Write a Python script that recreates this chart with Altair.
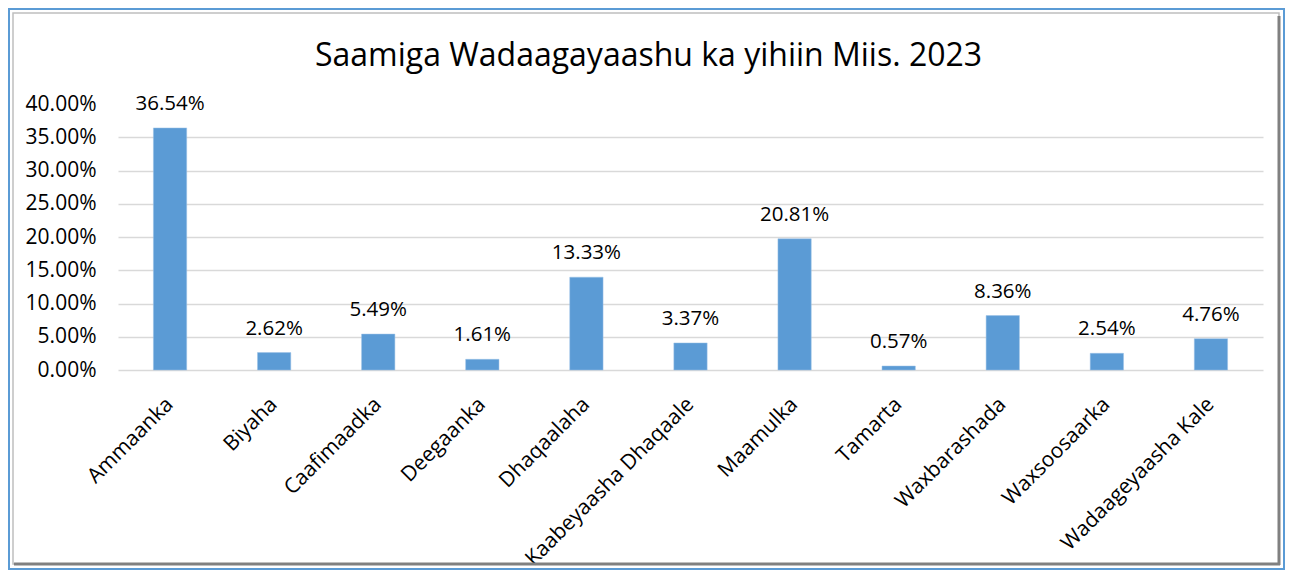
import altair as alt
import pandas as pd

categories = ["Ammaanka", "Biyaha", "Caafimaadka", "Deegaanka", "Dhaqaalaha",
              "Kaabeyaasha Dhaqaale", "Maamulka", "Tamarta", "Waxbarashada",
              "Waxsoosaarka", "Wadaageyaasha Kale"]
bar_values = [36.4, 2.62, 5.4, 1.61, 13.96, 4.07, 19.73, 0.6, 8.18, 2.51, 4.71]
label_texts = ["36.54%", "2.62%", "5.49%", "1.61%", "13.33%", "3.37%",
               "20.81%", "0.57%", "8.36%", "2.54%", "4.76%"]
y_ticks = [0, 0.05, 0.10, 0.15, 0.20, 0.25, 0.30, 0.35, 0.40]

df = pd.DataFrame({
    "cat": categories,
    "val": [v / 100 for v in bar_values],
    "lab": label_texts,
})

FONT = "Open Sans"
W, H = 1145, 266

x_enc = alt.X("cat:N", sort=categories, title=None,
              scale=alt.Scale(paddingInner=0.68, paddingOuter=0.34),
              axis=alt.Axis(labelAngle=-45, labelAlign="right", labelBaseline="middle",
                            labelPadding=31, ticks=False, domain=False, labelLimit=0,
                            labelOverlap=False, grid=False,
                            labelFont=FONT, labelFontSize=21, labelColor="#000000"))
y_enc = alt.Y("val:Q", title=None,
              scale=alt.Scale(domain=[0, 0.4], nice=False),
              axis=alt.Axis(values=y_ticks, format=".2%", ticks=False, domain=False,
                            labelOverlap=False,
                            labelPadding=22, labelFont=FONT, labelFontSize=21,
                            labelColor="#000000", gridColor="#D9D9D9", gridWidth=1.5,
                            gridOpacity={"condition": {"test": "datum.value > 0.375", "value": 0},
                                         "value": 1}))

bars = alt.Chart(df).mark_bar(color="#5B9BD5", stroke="#9DC3E6", strokeWidth=0.5).encode(
    x=x_enc, y=y_enc)

labels = alt.Chart(df).mark_text(dy=-24, font=FONT, fontSize=20.5, color="#000000",
                                 baseline="middle").encode(
    x=x_enc, y=y_enc, text="lab:N")

frame_blue = alt.Chart(df.head(1)).mark_rect(fill=None, stroke="#5B9BD5", strokeWidth=2).encode(
    x=alt.value(-109), x2=alt.value(1166), y=alt.value(-95), y2=alt.value(465))
frame_grey = alt.Chart(df.head(1)).mark_rect(fill=None, stroke="#BFBFBF", strokeWidth=1.5).encode(
    x=alt.value(-105), x2=alt.value(1161), y=alt.value(-91), y2=alt.value(460))
shadow_r = alt.Chart(df.head(1)).mark_rule(stroke="#808080", strokeWidth=3).encode(
    x=alt.value(1161), y=alt.value(-88), y2=alt.value(461))
shadow_b = alt.Chart(df.head(1)).mark_rule(stroke="#808080", strokeWidth=3).encode(
    x=alt.value(-104), x2=alt.value(1162), y=alt.value(460))

chart = alt.layer(frame_blue, frame_grey, shadow_r, shadow_b, bars, labels).properties(
    width=W, height=H,
    background="#FFFFFF",
    autosize=alt.AutoSizeParams(type="none"),
    padding={"left": 110, "top": 96, "right": 22, "bottom": 200},
    title=alt.TitleParams("Saamiga Wadaagayaashu ka yihiin Miis. 2023",
                          font=FONT, fontSize=32, fontWeight="normal", color="#000000",
                          anchor="middle", baseline="bottom", offset=-97, dx=-42),
).configure_view(stroke=None)

chart.save("out.html", embed_options={"renderer": "svg", "actions": False})
